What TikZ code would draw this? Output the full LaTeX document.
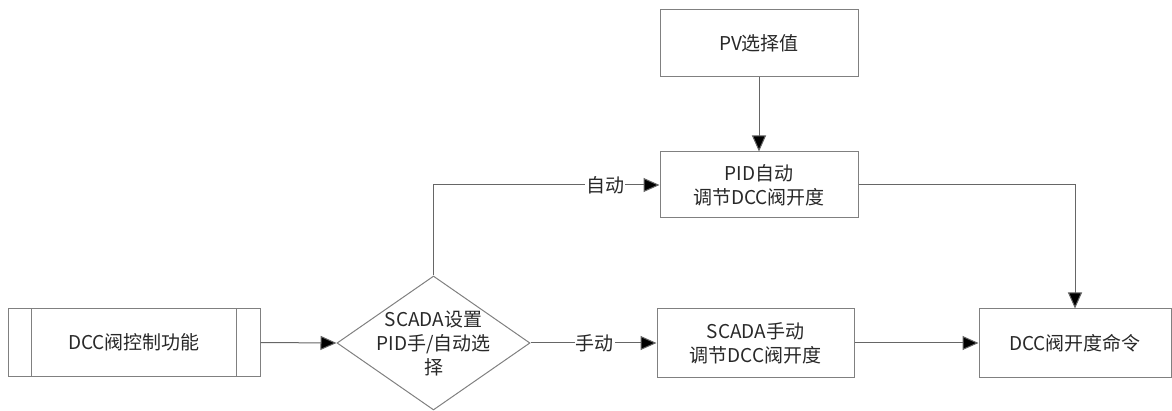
\documentclass[tikz,border=0pt]{standalone}
\usepackage{fontspec}
\setmainfont{Noto Sans CJK SC}
\usetikzlibrary{shapes.geometric,arrows.meta}
\definecolor{boxgray}{RGB}{128,128,128}
\definecolor{txt}{RGB}{40,40,40}
\begin{document}
\begin{tikzpicture}[x=1pt,y=-1pt,
  box/.style={draw=boxgray,line width=1pt,rectangle,inner sep=0pt,align=center,text=txt,font=\fontsize{19}{24}\selectfont},
  conn/.style={draw=boxgray!80!black,line width=1pt,-{Triangle[length=16pt,width=14pt,fill=black]}},
  lbl/.style={fill=white,inner sep=1pt,text=txt,font=\fontsize{19}{24}\selectfont}]
\useasboundingbox (0,0) rectangle (1172,411);
\node[box,minimum width=252pt,minimum height=67pt] (p) at (134,342.5) {DCC阀控制功能};
\draw[boxgray,line width=1pt] ([xshift=24pt]p.north west) -- ([xshift=24pt]p.south west)
  ([xshift=-24pt]p.north east) -- ([xshift=-24pt]p.south east);
\node[box,shape=diamond,minimum width=193pt,minimum height=134pt] (d) at (433.5,343) {};
\node[align=center,text=txt,font=\fontsize{19}{24}\selectfont,inner sep=0pt] (dt) at (d.center) {SCADA设置\\PID手/自动选\\择};
\node[box,minimum width=198pt,minimum height=67pt] (pv) at (759,43.5) {PV选择值};
\node[box,minimum width=198pt,minimum height=66pt] (pid) at (759,185) {PID自动\\调节DCC阀开度};
\node[box,minimum width=197pt,minimum height=68pt] (man) at (755.5,343) {SCADA手动\\调节DCC阀开度};
\node[box,minimum width=192pt,minimum height=68pt] (cmd) at (1075,343) {DCC阀开度命令};
\draw[conn] (p.east) -- (d.west);
\draw[conn] (pv.south) -- (pid.north);
\draw[conn] (d.north) |- node[lbl,pos=0.88] {自动} (pid.west);
\draw[conn] (d.east) -- node[lbl,pos=0.51] {手动} (man.west);
\draw[conn] (pid.east) -| (cmd.north);
\draw[conn] (man.east) -- (cmd.west);
\end{tikzpicture}
\end{document}
